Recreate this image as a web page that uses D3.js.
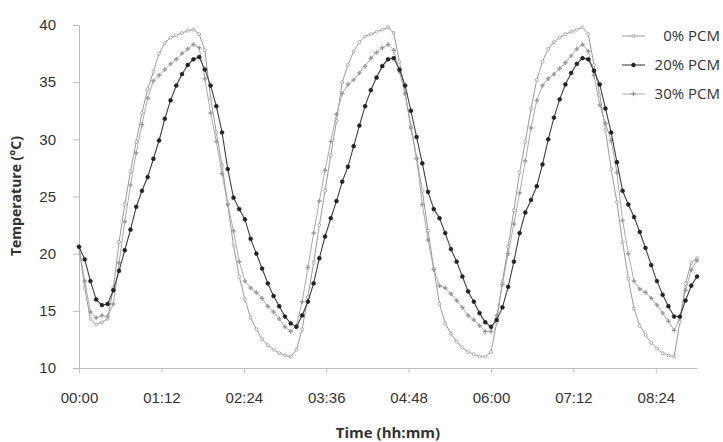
<!DOCTYPE html>
<html>
<head>
<meta charset="utf-8" />
<title>Temperature - PCM</title>
<style>
html, body {
    margin: 0;
    padding: 0;
    background: #fff;
}
svg {
    display: block;
    font-family: "Open Sans", "DejaVu Sans", sans-serif;
}
.axis path, .axis line {
    stroke: #bdbdbd;
}
.axis text {
    fill: #333;
    font-size: 15px;
}
</style>
</head>
<body>
<svg id="chart" width="723" height="442"></svg>

<script src="https://d3js.org/d3.v7.min.js"></script>
<script>
// readings every 5 minutes, 00:00 to 09:00
var times = d3.range(0, 545, 5)

var pcm0 = [
    20.6, 17.0, 14.3, 13.8, 14.0, 14.3, 17.0, 21.0, 24.3, 27.2, 29.8, 32.3,
    34.4, 35.9, 37.5, 38.4, 38.9, 39.1, 39.3, 39.5, 39.6, 39.2, 37.8, 33.6,
    30.6, 27.7, 24.3, 20.7, 18.0, 16.0, 14.4, 13.4, 12.5, 12.0, 11.6, 11.3,
    11.1, 11.0, 11.6, 13.4, 16.2, 19.2, 22.5, 25.5, 28.6, 31.6, 35.0, 36.5,
    37.7, 38.5, 39.0, 39.2, 39.4, 39.6, 39.8, 39.3, 36.8, 34.0, 31.2, 28.4,
    25.5, 22.0, 18.7, 15.6, 13.9, 13.0, 12.3, 11.8, 11.4, 11.2, 11.0, 11.0,
    11.4, 14.0, 17.6, 20.6, 23.8, 27.1, 29.8, 32.7, 35.2, 36.8, 37.9, 38.5,
    38.9, 39.2, 39.4, 39.6, 39.8, 39.2, 36.5, 33.9, 30.8, 27.4, 24.5, 21.0,
    17.8, 15.2, 13.7, 12.9, 12.2, 11.7, 11.3, 11.1, 11.0, 14.0, 17.4, 19.2,
    19.6
]

var pcm20 = [
    20.6, 19.5, 17.6, 16.0, 15.5, 15.6, 16.8, 18.5, 20.3, 22.1, 24.1, 25.5,
    26.7, 28.3, 29.9, 31.8, 33.4, 34.7, 35.7, 36.5, 37.0, 37.2, 36.1, 34.7,
    32.9, 30.6, 27.4, 24.9, 23.9, 23.0, 21.3, 20.0, 18.7, 17.4, 16.3, 15.4,
    14.5, 13.9, 13.6, 14.6, 15.8, 17.4, 19.6, 21.5, 23.1, 24.6, 26.3, 27.6,
    29.4, 31.2, 32.9, 34.3, 35.4, 36.4, 37.0, 37.1, 36.1, 34.7, 32.5, 30.2,
    27.9, 25.4, 23.9, 23.1, 21.8, 20.4, 19.3, 18.0, 16.7, 15.8, 14.8, 14.0,
    13.6, 14.2, 15.3, 17.1, 19.3, 21.8, 23.6, 24.7, 25.9, 27.8, 30.0, 31.9,
    33.5, 34.8, 35.8, 36.6, 37.1, 37.0, 36.0, 34.8, 32.7, 30.6, 28.0, 25.5,
    24.3, 23.2, 21.9, 20.5, 19.0, 17.6, 16.4, 15.4, 14.5, 14.5, 15.9, 17.2,
    18.0
]

var pcm30 = [
    20.6, 17.6, 14.9, 14.4, 14.6, 14.5, 15.6, 19.2, 22.8, 26.0, 28.8, 31.3,
    33.6, 35.1, 35.6, 36.1, 36.6, 37.0, 37.5, 37.9, 38.3, 38.0, 35.3, 32.3,
    29.8, 27.0, 24.3, 22.0, 19.3, 17.6, 17.0, 16.6, 16.1, 15.4, 14.9, 14.3,
    13.6, 13.2, 13.7, 15.8, 18.8, 21.8, 24.6, 27.3, 29.8, 32.2, 34.0, 34.8,
    35.2, 35.8, 36.4, 37.1, 37.6, 38.0, 38.3, 37.8, 35.9, 34.0, 31.0, 28.3,
    24.3, 21.2, 18.6, 17.2, 17.0, 16.5, 15.9, 15.3, 14.6, 14.2, 13.7, 13.2,
    13.2, 14.6, 17.3, 20.0, 22.6, 25.3, 28.1, 31.0, 33.4, 34.7, 35.3, 35.7,
    36.2, 36.7, 37.3, 37.9, 38.3, 37.7, 35.6, 33.0, 31.4, 29.9, 27.1, 22.9,
    20.0, 17.6, 16.9, 16.6, 16.1, 15.5, 14.8, 14.1, 13.3, 14.4, 16.8, 18.6,
    19.4
]

var seriesNames = ["0% PCM", "20% PCM", "30% PCM"]
var xTicks = [0, 72, 144, 216, 288, 360, 432, 504]
var yTicks = [10, 15, 20, 25, 30, 35, 40]

var margin = {top: 25, left: 79, bottom: 74, right: 26}
var width = 723, height = 442

var svg = d3.select("#chart")

var xScale = d3.scaleLinear()
    .domain([0, 540])
    .range([margin.left, width - margin.right])
var yScale = d3.scaleLinear()
    .domain([10, 40])
    .range([height - margin.bottom, margin.top])

function hhmm(m) {
    return d3.format("02")(Math.floor(m / 60)) + ":" + d3.format("02")(m % 60)
}

svg.append("g")
    .attr("class", "x axis")
    .attr("transform", "translate(0," + yScale(10) + ")")
    .call(d3.axisBottom(xScale).tickValues(xTicks).tickFormat(hhmm)
        .tickSize(5).tickSizeOuter(0).tickPadding(19))

svg.append("g")
    .attr("class", "y axis")
    .attr("transform", "translate(" + xScale(0) + ",0)")
    .call(d3.axisLeft(yScale).tickValues(yTicks)
        .tickSize(6).tickSizeOuter(0).tickPadding(17))

svg.append("text")
    .attr("transform", "translate(21," + 196 + ") rotate(-90)")
    .attr("text-anchor", "middle")
    .attr("font-size", 14)
    .attr("font-weight", "bold")
    .attr("fill", "#333")
    .text("Temperature (°C)")

svg.append("text")
    .attr("x", 388)
    .attr("y", 438)
    .attr("text-anchor", "middle")
    .attr("font-size", 15)
    .attr("font-weight", "bold")
    .attr("fill", "#333")
    .text("Time (hh:mm)")

var styles = [
    {data: pcm0, line: "#8f8f8f", width: 0.9, marker: "circle", fill: "#fff", stroke: "#8f8f8f", r: 1.5},
    {data: pcm20, line: "#404040", width: 1.1, marker: "dot", fill: "#222", stroke: "#222", r: 1.9},
    {data: pcm30, line: "#a0a0a0", width: 0.9, marker: "cross", fill: "#9a9a9a", stroke: "#9a9a9a", r: 1.5}
]

var line = d3.line()
    .x(function(d, i) { return xScale(times[i]) })
    .y(function(d) { return yScale(d) })

function drawMarkers(g, pts, s) {
    if (s.marker == "cross") {
        g.selectAll("path.m").data(pts).enter().append("path")
            .attr("class", "m")
            .attr("d", d3.symbol().type(d3.symbolCross).size(11))
            .attr("transform", function(p) { return "translate(" + p[0] + "," + p[1] + ")" })
            .attr("fill", s.fill)
    } else {
        g.selectAll("circle.m").data(pts).enter().append("circle")
            .attr("class", "m")
            .attr("cx", function(p) { return p[0] })
            .attr("cy", function(p) { return p[1] })
            .attr("r", s.r)
            .attr("fill", s.fill)
            .attr("stroke", s.stroke)
            .attr("stroke-width", 0.7)
    }
}

var order = [0, 2, 1]
order.forEach(function(k) {
    var s = styles[k]
    var g = svg.append("g").attr("class", "series")
    g.append("path")
        .datum(s.data)
        .attr("d", line)
        .attr("fill", "none")
        .attr("stroke", s.line)
        .attr("stroke-width", s.width)
    var pts = s.data.map(function(d, i) { return [xScale(times[i]), yScale(d)] })
    drawMarkers(g, pts, s)
})

// legend
var legend = svg.append("g").attr("class", "legend")
seriesNames.forEach(function(name, k) {
    var s = styles[k]
    var y = 36 + k * 29
    var g = legend.append("g")
    g.append("line")
        .attr("x1", 622).attr("x2", 645)
        .attr("y1", y).attr("y2", y)
        .attr("stroke", s.line)
        .attr("stroke-width", s.width)
    drawMarkers(g, [[633.5, y]], s)
    g.append("text")
        .attr("x", 720)
        .attr("y", y)
        .attr("dy", "0.35em")
        .attr("text-anchor", "end")
        .attr("font-size", 15)
        .attr("fill", "#333")
        .text(name)
})
</script>
</body>
</html>
